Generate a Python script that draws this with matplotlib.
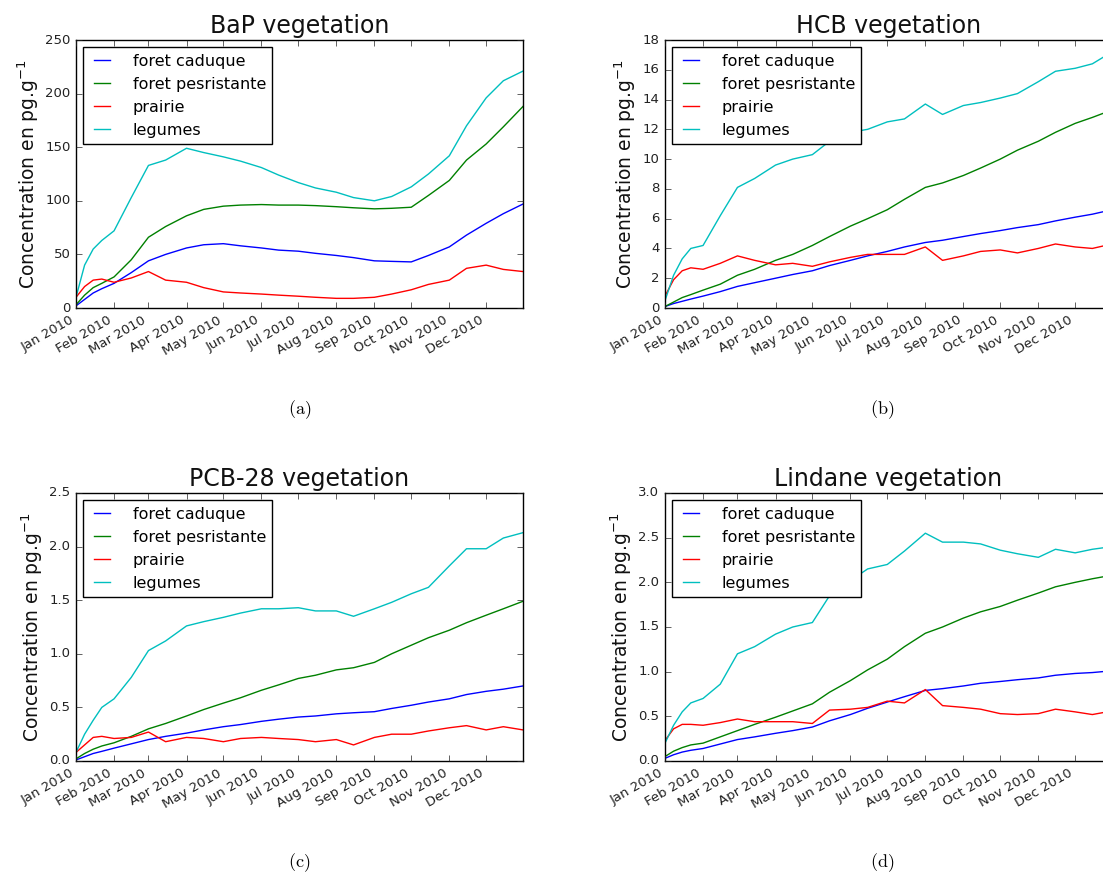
import datetime
import matplotlib
matplotlib.use("Agg")
import matplotlib.pyplot as plt
import matplotlib.dates as mdates

# sample dates (2010)
dates = ["2010-01-01", "2010-01-08", "2010-01-15", "2010-01-22", "2010-02-01", "2010-02-15",
         "2010-03-01", "2010-03-15", "2010-04-01", "2010-04-15", "2010-05-01", "2010-05-15",
         "2010-06-01", "2010-06-15", "2010-07-01", "2010-07-15", "2010-08-01", "2010-08-15",
         "2010-09-01", "2010-09-15", "2010-10-01", "2010-10-15", "2010-11-01", "2010-11-15",
         "2010-12-01", "2010-12-15", "2010-12-31"]

series_labels = ["foret caduque", "foret pesristante", "prairie", "legumes"]
series_colors = ["b", "g", "r", "c"]

bap_caduque = [2, 8, 14, 18, 23, 33, 44, 50, 56, 59, 60, 58, 56, 54, 53, 51, 49, 47, 44, 43.5, 43, 49, 57, 68, 79, 88, 97]
bap_persistante = [3, 12, 19, 23, 29, 45, 66, 76, 86, 92, 95, 96, 96.5, 96, 96, 95.5, 94.5, 93.5, 92.5, 93, 94, 105, 119, 138, 153, 169, 188]
bap_prairie = [10, 20, 26, 27, 24, 28, 34, 26, 24, 19, 15, 14, 13, 12, 11, 10, 9, 9, 10, 13, 17, 22, 26, 37, 40, 36, 34]
bap_legumes = [10, 40, 55, 63, 72, 103, 133, 138, 149, 145, 141, 137, 131, 124, 117, 112, 108, 103, 100, 104, 113, 125, 142, 170, 196, 212, 221]

hcb_caduque = [0.1, 0.3, 0.45, 0.6, 0.8, 1.1, 1.45, 1.7, 2.0, 2.25, 2.5, 2.85, 3.2, 3.5, 3.8, 4.1, 4.4, 4.55, 4.8, 5.0, 5.2, 5.4, 5.6, 5.85, 6.1, 6.3, 6.6]
hcb_persistante = [0.1, 0.4, 0.7, 0.9, 1.2, 1.6, 2.2, 2.6, 3.2, 3.6, 4.2, 4.8, 5.5, 6.0, 6.6, 7.3, 8.1, 8.4, 8.9, 9.4, 10.0, 10.6, 11.2, 11.8, 12.4, 12.8, 13.3]
hcb_prairie = [0.8, 1.9, 2.5, 2.7, 2.6, 3.0, 3.5, 3.2, 2.9, 3.0, 2.8, 3.1, 3.4, 3.6, 3.6, 3.6, 4.1, 3.2, 3.5, 3.8, 3.9, 3.7, 4.0, 4.3, 4.1, 4.0, 4.3]
hcb_legumes = [0.5, 2.2, 3.3, 4.0, 4.2, 6.2, 8.1, 8.7, 9.6, 10.0, 10.3, 11.2, 11.8, 12.0, 12.5, 12.7, 13.7, 13.0, 13.6, 13.8, 14.1, 14.4, 15.2, 15.9, 16.1, 16.4, 17.2]

pcb_caduque = [0.01, 0.04, 0.07, 0.09, 0.12, 0.16, 0.20, 0.23, 0.26, 0.29, 0.32, 0.34, 0.37, 0.39, 0.41, 0.42, 0.44, 0.45, 0.46, 0.49, 0.52, 0.55, 0.58, 0.62, 0.65, 0.67, 0.70]
pcb_persistante = [0.02, 0.07, 0.11, 0.14, 0.17, 0.23, 0.30, 0.35, 0.42, 0.48, 0.54, 0.59, 0.66, 0.71, 0.77, 0.80, 0.85, 0.87, 0.92, 1.00, 1.08, 1.15, 1.22, 1.29, 1.36, 1.42, 1.49]
pcb_prairie = [0.08, 0.15, 0.22, 0.23, 0.21, 0.22, 0.27, 0.18, 0.22, 0.21, 0.18, 0.21, 0.22, 0.21, 0.20, 0.18, 0.20, 0.15, 0.22, 0.25, 0.25, 0.28, 0.31, 0.33, 0.29, 0.32, 0.29]
pcb_legumes = [0.08, 0.25, 0.38, 0.50, 0.58, 0.78, 1.03, 1.12, 1.26, 1.30, 1.34, 1.38, 1.42, 1.42, 1.43, 1.40, 1.40, 1.35, 1.42, 1.48, 1.56, 1.62, 1.82, 1.98, 1.98, 2.08, 2.13]

lin_caduque = [0.03, 0.07, 0.10, 0.12, 0.14, 0.19, 0.24, 0.27, 0.31, 0.34, 0.38, 0.45, 0.52, 0.59, 0.66, 0.72, 0.79, 0.81, 0.84, 0.87, 0.89, 0.91, 0.93, 0.96, 0.98, 0.99, 1.01]
lin_persistante = [0.05, 0.11, 0.15, 0.18, 0.20, 0.27, 0.34, 0.41, 0.49, 0.56, 0.64, 0.77, 0.90, 1.02, 1.14, 1.28, 1.43, 1.50, 1.60, 1.67, 1.73, 1.80, 1.88, 1.95, 2.00, 2.04, 2.08]
lin_prairie = [0.23, 0.36, 0.41, 0.41, 0.40, 0.43, 0.47, 0.44, 0.44, 0.44, 0.42, 0.57, 0.58, 0.60, 0.67, 0.65, 0.80, 0.62, 0.60, 0.58, 0.53, 0.52, 0.53, 0.58, 0.55, 0.52, 0.56]
lin_legumes = [0.2, 0.4, 0.55, 0.65, 0.70, 0.86, 1.20, 1.28, 1.42, 1.50, 1.55, 1.85, 2.02, 2.15, 2.20, 2.35, 2.55, 2.45, 2.45, 2.43, 2.36, 2.32, 2.28, 2.37, 2.33, 2.37, 2.40]

titles = ["BaP vegetation", "HCB vegetation", "PCB-28 vegetation", "Lindane vegetation"]
captions = ["(a)", "(b)", "(c)", "(d)"]

plt.style.use("classic")
plt.rcParams["figure.facecolor"] = "white"
plt.rcParams["savefig.facecolor"] = "white"
plt.rcParams["font.family"] = ["DejaVu Sans"]

x = [datetime.datetime.strptime(d, "%Y-%m-%d") for d in dates]

panels = [
    (bap_caduque, bap_persistante, bap_prairie, bap_legumes),
    (hcb_caduque, hcb_persistante, hcb_prairie, hcb_legumes),
    (pcb_caduque, pcb_persistante, pcb_prairie, pcb_legumes),
    (lin_caduque, lin_persistante, lin_prairie, lin_legumes),
]

# axes boxes in figure fraction (right column runs past the cropped edge)
W, H = 1103.0, 875.0
lefts = [76 / W, 665 / W]
bottoms = [1 - 308 / H, 1 - 761 / H]
aw, ah = 447 / W, 268 / H

fig = plt.figure(figsize=(11.03, 8.75), dpi=100)

for i, data in enumerate(panels):
    row, col = divmod(i, 2)
    ax = fig.add_axes([lefts[col], bottoms[row], aw, ah])
    for values, label, color in zip(data, series_labels, series_colors):
        ax.plot(x, values, color=color, lw=1.0, label=label)
    ax.set_xlim(x[0], x[-1])
    ax.set_ylim(bottom=0)
    ax.xaxis.set_major_locator(mdates.MonthLocator())
    ax.xaxis.set_major_formatter(mdates.DateFormatter("%b %Y"))
    for lbl in ax.get_xticklabels():
        lbl.set_rotation(30)
        lbl.set_ha("right")
    ax.tick_params(labelsize=9.5, colors="#222222")
    ax.set_title(titles[i], fontsize=17, color="#111111")
    ax.set_ylabel(r"Concentration en pg.g$^{-1}$", fontsize=13.5, color="#111111",
                  math_fontfamily="dejavusans", labelpad=3)
    ax.legend(loc="upper left", fontsize=11.5, handlelength=1.6, handletextpad=1.1,
              labelspacing=0.5, borderpad=0.4, borderaxespad=0.45)
    cx = (lefts[col] + aw / 2) if col == 0 else (882 / W)
    fig.text(cx, bottoms[row] - 102 / H, r"$\mathrm{%s}$" % captions[i], ha="center", va="center",
             fontsize=13, math_fontfamily="cm")

plt.savefig("out.png", dpi=100)
plt.close()
